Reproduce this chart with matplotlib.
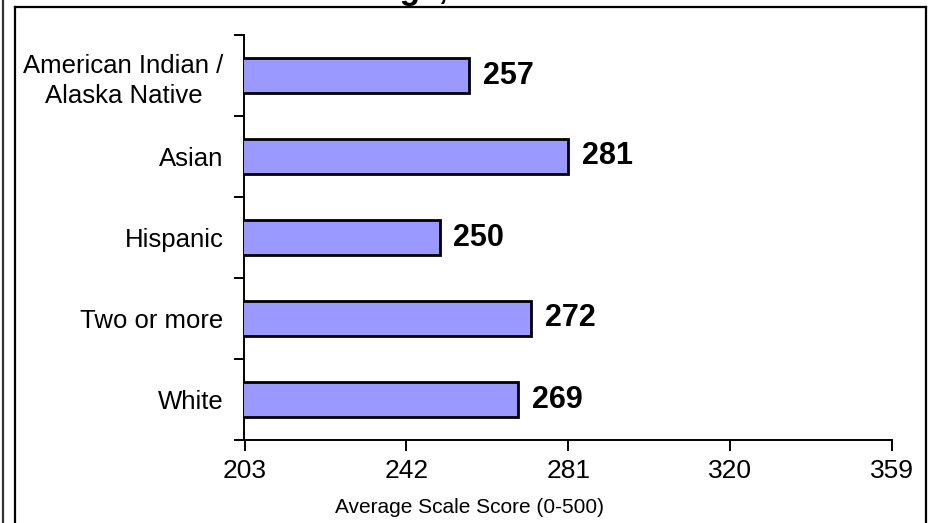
import matplotlib
matplotlib.use("Agg")
import matplotlib.pyplot as plt
import numpy as np
from matplotlib.lines import Line2D

categories = ["American Indian /\nAlaska Native", "Asian", "Hispanic", "Two or more", "White"]
scores = [257, 281, 250, 272, 269]
x_ticks = [203, 242, 281, 320, 359]
x_label = "Average Scale Score (0-500)"
title_fragment = "Average, Grade 8"

W, H = 934, 523
fig = plt.figure(figsize=(W / 100, H / 100), dpi=100)
ax = fig.add_axes([244.5 / W, (H - 440) / H, (892 - 244.5) / W, (440 - 35) / H])

y = np.arange(len(categories))
ax.barh(y, scores, height=0.42, color="#9999FF", edgecolor="black", linewidth=2.0, zorder=3)

for yi, v in zip(y, scores):
    ax.annotate(str(v), xy=(v, yi), xytext=(10, 0), textcoords="offset points",
                va="center", ha="left", fontsize=22, fontweight="bold",
                family=["Liberation Sans Narrow", "Liberation Sans", "DejaVu Sans"])

ax.set_xlim(x_ticks[0], x_ticks[-1])
ax.set_ylim(len(categories) - 0.5, -0.5)
ax.set_xticks(x_ticks)
ax.set_xticklabels([str(t) for t in x_ticks], fontsize=19, family="Liberation Sans")
ax.set_yticks(y)
ax.set_yticklabels(categories, fontsize=18.5, family="Liberation Sans", linespacing=1.3)
for lbl in ax.get_yticklabels():
    lbl.set_multialignment("center")
ax.set_yticks(np.arange(len(categories) + 1) - 0.5, minor=True)
ax.tick_params(axis="y", which="major", length=0, pad=15)
ax.tick_params(axis="y", which="minor", length=7, width=1.4, direction="out")
ax.tick_params(axis="x", which="major", length=8, width=1.4, direction="out", pad=6)
for s in ["top", "right"]:
    ax.spines[s].set_visible(False)
for s in ["left", "bottom"]:
    ax.spines[s].set_linewidth(1.4)
ax.set_xlabel(x_label, fontsize=15, family="Liberation Sans")
ax.xaxis.set_label_coords(0.348, -0.143)

# outer frame lines
def fx(px):
    return px / W
def fy(py):
    return 1 - py / H
fig.add_artist(Line2D([fx(15), fx(15)], [fy(7), fy(530)], color="black", lw=1.6))
fig.add_artist(Line2D([fx(15), fx(925.5)], [fy(7), fy(7)], color="black", lw=1.6))
fig.add_artist(Line2D([fx(925.5), fx(925.5)], [fy(7), fy(530)], color="black", lw=1.6))
fig.add_artist(Line2D([fx(2.5), fx(2.5)], [fy(-5), fy(530)], color="#333333", lw=1.6))

fig.text(fx(308), fy(-1.5), title_fragment, fontsize=24, fontweight="bold",
         family="Liberation Sans", ha="left", va="baseline")

fig.savefig("out.png", dpi=100)
